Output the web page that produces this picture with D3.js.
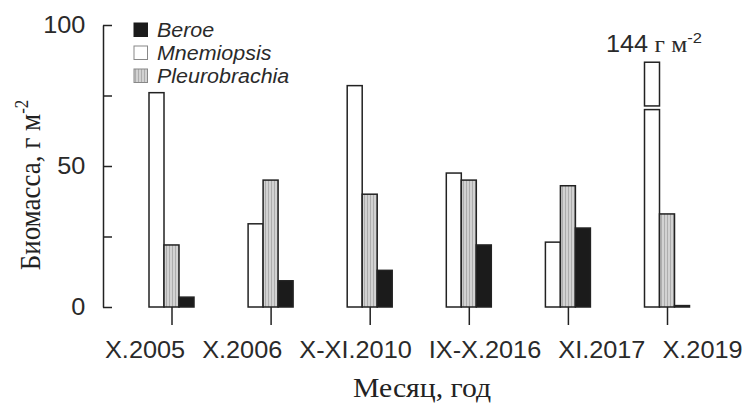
<!DOCTYPE html>
<html>
<head>
<meta charset="utf-8">
<script src="https://cdn.jsdelivr.net/npm/d3@7"></script>
<style>
  body { margin: 0; background: #fff; }
</style>
</head>
<body>
<svg id="chart" width="744" height="403"></svg>
<script>
// data
const periods = ["X.2005", "X.2006", "X-XI.2010", "IX-X.2016", "XI.2017", "X.2019"];
const mnemiopsis = [76, 29.5, 78.5, 47.5, 23, 144];
const pleurobrachia = [22, 45, 40, 45, 43, 33];
const beroe = [3.5, 9.3, 13, 22, 28, 0.5];
const yTicks = [0, 25, 50, 75, 100];
const yLabels = [0, 50, 100];
const legendOrder = ["Beroe", "Mnemiopsis", "Pleurobrachia"];
const barOrder = ["Mnemiopsis", "Pleurobrachia", "Beroe"];

// off-scale bar is drawn broken
const breakLow = 70, breakHigh = 71.3, breakTop = 86.8;

const sans = "'Liberation Sans', Arial, sans-serif";
const serif = "'Liberation Serif', 'Times New Roman', serif";
const ink = "#222";
const stretch = "scale(1.1,1)";

const main = function() {
  var svg = d3.select("#chart");

  var defs = svg.append("defs");
  var pat = defs.append("pattern")
    .attr("id", "hatch")
    .attr("patternUnits", "userSpaceOnUse")
    .attr("width", 3)
    .attr("height", 4);
  pat.append("rect").attr("width", 3).attr("height", 4).attr("fill", "#d2d2d2");
  pat.append("line")
    .attr("x1", 1.5).attr("x2", 1.5).attr("y1", 0).attr("y2", 4)
    .attr("stroke", "#adadad").attr("stroke-width", 1);

  var fills = {
    "Beroe": "#1b1b1b",
    "Mnemiopsis": "#fff",
    "Pleurobrachia": "url(#hatch)"
  };
  var values = {
    "Beroe": beroe,
    "Mnemiopsis": mnemiopsis,
    "Pleurobrachia": pleurobrachia
  };

  var x = d3.scalePoint().domain(periods).range([171.5, 667]);
  var y = d3.scaleLinear().domain([0, 100]).range([307, 25]);
  var sub = d3.scaleBand().domain(barOrder).range([-22.5, 22.5]).padding(0);

  // bars
  var bars = svg.append("g");
  barOrder.forEach(function(s) {
    var rows = periods.map((p, i) => ({ p: p, v: values[s][i] }));
    var g = bars.append("g");
    rows.forEach(function(d) {
      var segs = d.v > 100 ? [[0, breakLow], [breakHigh, breakTop]] : [[0, d.v]];
      segs.forEach(function(seg) {
        g.append("rect")
          .attr("x", x(d.p) + sub(s))
          .attr("width", sub.bandwidth())
          .attr("y", y(seg[1]))
          .attr("height", y(seg[0]) - y(seg[1]))
          .attr("fill", fills[s])
          .attr("stroke", ink)
          .attr("stroke-width", 1.5);
      });
    });
  });

  // y axis, ticks pointing inward
  var yAxis = svg.append("g")
    .attr("transform", "translate(103,0)")
    .call(d3.axisLeft(y)
      .tickValues(yTicks)
      .tickSizeInner(-9)
      .tickSizeOuter(0)
      .tickPadding(16)
      .tickFormat(d => yLabels.includes(d) ? d : ""));
  yAxis.selectAll("path, line").attr("stroke", ink).attr("stroke-width", 1.5);
  yAxis.selectAll("text")
    .attr("font-family", sans).attr("font-size", 23).attr("fill", "#2a2a2a")
    .attr("transform", stretch);

  // x axis: ticks only, no baseline; labels set as one typed line below
  var xAxis = svg.append("g")
    .attr("transform", "translate(0,307)")
    .call(d3.axisBottom(x).tickSizeInner(18).tickSizeOuter(0).tickFormat(""));
  xAxis.select(".domain").remove();
  xAxis.selectAll("line").attr("stroke", ink).attr("stroke-width", 1.5);

  var xl = svg.append("g").attr("transform", "translate(105,358)")
    .append("text")
    .attr("transform", stretch)
    .attr("font-family", sans).attr("font-size", 23).attr("fill", "#2a2a2a");
  xl.selectAll("tspan").data(periods).join("tspan")
    .attr("dx", (d, i) => i ? 15.5 : 0)
    .text(d => d);

  // legend
  var legend = svg.append("g").attr("transform", "translate(134,23)");
  legendOrder.forEach(function(s, i) {
    var row = legend.append("g").attr("transform", "translate(0," + (i * 23) + ")");
    row.append("rect")
      .attr("width", 13.5).attr("height", 13.5)
      .attr("fill", fills[s])
      .attr("stroke", s == "Beroe" ? "#1b1b1b" : "#888")
      .attr("stroke-width", 1);
    row.append("g").attr("transform", "translate(23,13.5)")
      .append("text")
      .attr("transform", stretch)
      .attr("font-family", sans).attr("font-style", "italic")
      .attr("font-size", 19.5).attr("fill", "#2a2a2a")
      .text(s);
  });

  // label for the broken bar
  var lab = svg.append("g").attr("transform", "translate(606,52)")
    .append("text").attr("transform", stretch).attr("fill", "#2a2a2a");
  lab.append("tspan").attr("font-family", sans).attr("font-size", 23).text(mnemiopsis[5]);
  lab.append("tspan").attr("font-family", serif).attr("font-size", 23).text(" г м");
  lab.append("tspan").attr("font-family", sans).attr("font-size", 15).attr("dy", -9).text("-2");

  // axis titles
  var yt = svg.append("text")
    .attr("transform", "translate(40,185) rotate(-90) scale(1,1.1)")
    .attr("text-anchor", "middle")
    .attr("font-family", serif).attr("font-size", 27).attr("fill", ink);
  yt.append("tspan").text("Биомасса, г м");
  yt.append("tspan").attr("font-size", 17).attr("dy", -11).text("-2");

  svg.append("g").attr("transform", "translate(422,397)")
    .append("text")
    .attr("transform", stretch)
    .attr("text-anchor", "middle")
    .attr("font-family", serif).attr("font-size", 27).attr("fill", ink)
    .text("Месяц, год");
};

main();
</script>
</body>
</html>
